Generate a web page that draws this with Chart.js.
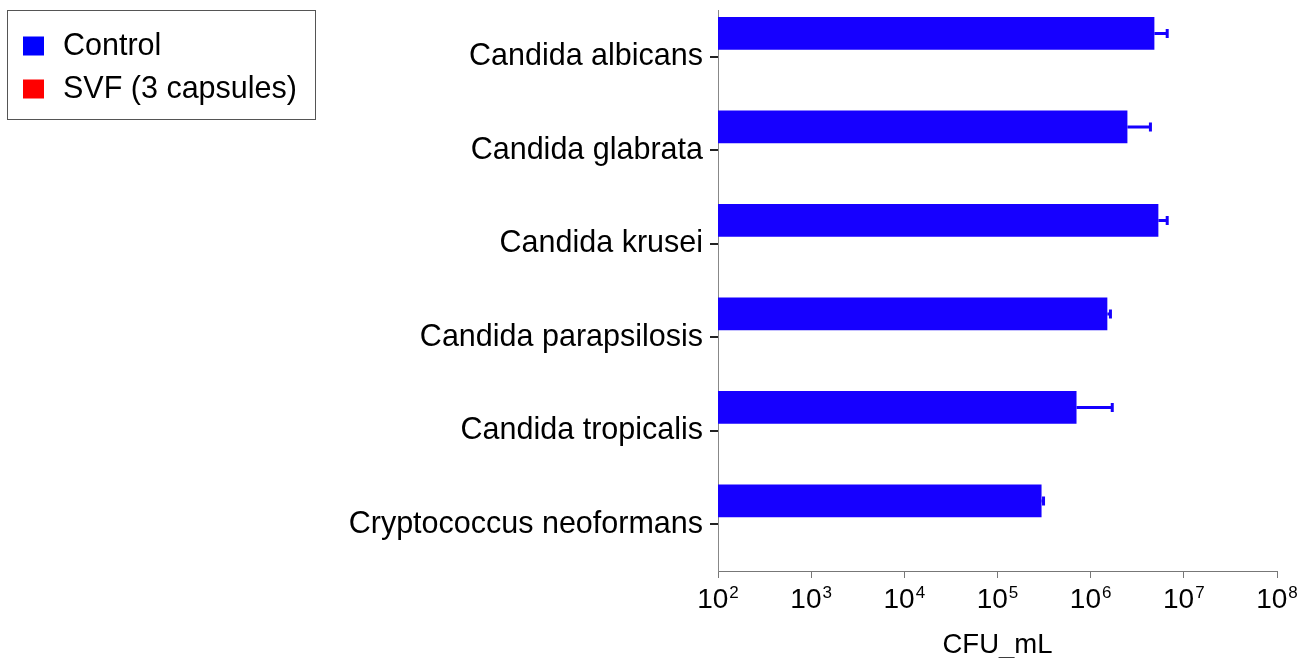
<!DOCTYPE html>
<html>
<head>
<meta charset="utf-8">
<script src="https://cdn.jsdelivr.net/npm/chart.js@4/dist/chart.umd.min.js"></script>
<style>
html,body{margin:0;padding:0;background:#fff;}
#wrap{width:1310px;height:658px;}
</style>
</head>
<body>
<div id="wrap"><canvas id="c" width="1310" height="658"></canvas></div>
<script>
const categories = ['Candida albicans','Candida glabrata','Candida krusei','Candida parapsilosis','Candida tropicalis','Cryptococcus neoformans'];
const seriesNames = ['Control','SVF (3 capsules)'];
const seriesColors = ['rgb(22,0,255)','rgb(255,0,0)'];
const controlValues = [4.83e6, 2.48e6, 5.33e6, 1.51e6, 7.05e5, 2.97e5];
const controlErrors = [1.8e6, 1.9e6, 1.3e6, 1.2e5, 1.0e6, 1.5e4];
const svfValues = [null, null, null, null, null, null];
const xTickBase = '10';
const xTickExponents = [2,3,4,5,6,7,8];
const xAxisTitle = 'CFU_mL';

const FONT = '"Liberation Sans", Arial, sans-serif';

const overlay = {
  id: 'overlay',
  afterDatasetsDraw(chart) {
    const ctx = chart.ctx;
    const xs = chart.scales.x;
    const meta = chart.getDatasetMeta(0);
    ctx.save();
    ctx.strokeStyle = seriesColors[0];
    ctx.lineWidth = 3;
    controlValues.forEach((v, i) => {
      if (v == null) return;
      const bar = meta.data[i];
      const x0 = xs.getPixelForValue(v);
      const x1 = xs.getPixelForValue(v + controlErrors[i]);
      const y = bar.y;
      ctx.beginPath();
      ctx.moveTo(x0, y); ctx.lineTo(x1, y);
      ctx.moveTo(x1, y - 4.5); ctx.lineTo(x1, y + 4.5);
      ctx.stroke();
    });
    ctx.restore();
  },
  afterDraw(chart) {
    const ctx = chart.ctx;
    const xs = chart.scales.x;
    ctx.save();
    ctx.fillStyle = '#000';
    ctx.textBaseline = 'alphabetic';
    const baseFont = '28px ' + FONT;
    const expFont = '17px ' + FONT;
    xTickExponents.forEach(e => {
      const x = xs.getPixelForValue(Math.pow(10, e));
      ctx.font = baseFont;
      const wb = ctx.measureText(xTickBase).width;
      ctx.font = expFont;
      const we = ctx.measureText(String(e)).width;
      const start = x - (wb + we + 1) / 2;
      ctx.font = baseFont;
      ctx.textAlign = 'left';
      ctx.fillText(xTickBase, start, 608);
      ctx.font = expFont;
      ctx.fillText(String(e), start + wb + 1, 598);
    });
    ctx.font = '27.5px ' + FONT;
    ctx.textAlign = 'center';
    ctx.fillText(xAxisTitle, (xs.left + xs.right) / 2, 653);
    // legend
    ctx.strokeStyle = '#555';
    ctx.lineWidth = 1;
    ctx.strokeRect(7.5, 10.5, 308, 109);
    ctx.textAlign = 'left';
    ctx.textBaseline = 'middle';
    ctx.font = '30.5px ' + FONT;
    seriesNames.forEach((name, i) => {
      const cy = 46 + i * 43;
      ctx.fillStyle = i === 0 ? 'rgb(0,0,255)' : seriesColors[i];
      ctx.fillRect(23, cy - 9.5, 21, 19);
      ctx.fillStyle = '#000';
      ctx.fillText(name, 63, cy + 1);
    });
    ctx.restore();
  }
};

new Chart(document.getElementById('c'), {
  type: 'bar',
  data: {
    labels: categories,
    datasets: [
      { label: seriesNames[0], data: controlValues, backgroundColor: seriesColors[0], borderWidth: 0 },
      { label: seriesNames[1], data: svfValues, backgroundColor: seriesColors[1], borderWidth: 0 }
    ]
  },
  options: {
    indexAxis: 'y',
    responsive: false,
    animation: false,
    events: [],
    categoryPercentage: 1.0,
    barPercentage: 0.7,
    layout: { padding: { left: 0, top: 10, right: 33, bottom: 0 } },
    plugins: { legend: { display: false }, tooltip: { enabled: false } },
    scales: {
      x: {
        type: 'logarithmic',
        min: 100,
        max: 1e8,
        afterBuildTicks(scale) {
          scale.ticks = xTickExponents.map(e => ({ value: Math.pow(10, e) }));
        },
        afterFit(scale) { scale.height = 87; scale.paddingLeft = 0; scale.paddingRight = 0; },
        ticks: { display: false },
        grid: { drawOnChartArea: false, drawTicks: true, tickLength: 7, color: '#777', lineWidth: 1 },
        border: { display: true, color: '#777', width: 1 }
      },
      y: {
        offset: true,
        afterFit(scale) { scale.width = 718; scale.paddingTop = 0; scale.paddingBottom = 0; },
        ticks: { color: '#000', font: { family: FONT, size: 30.5 }, padding: 7 },
        grid: { offset: false, drawOnChartArea: false, drawTicks: true, tickLength: 8, color: '#222', lineWidth: 2 },
        border: { display: true, color: '#888', width: 1 }
      }
    }
  },
  plugins: [overlay]
});
</script>
</body>
</html>
